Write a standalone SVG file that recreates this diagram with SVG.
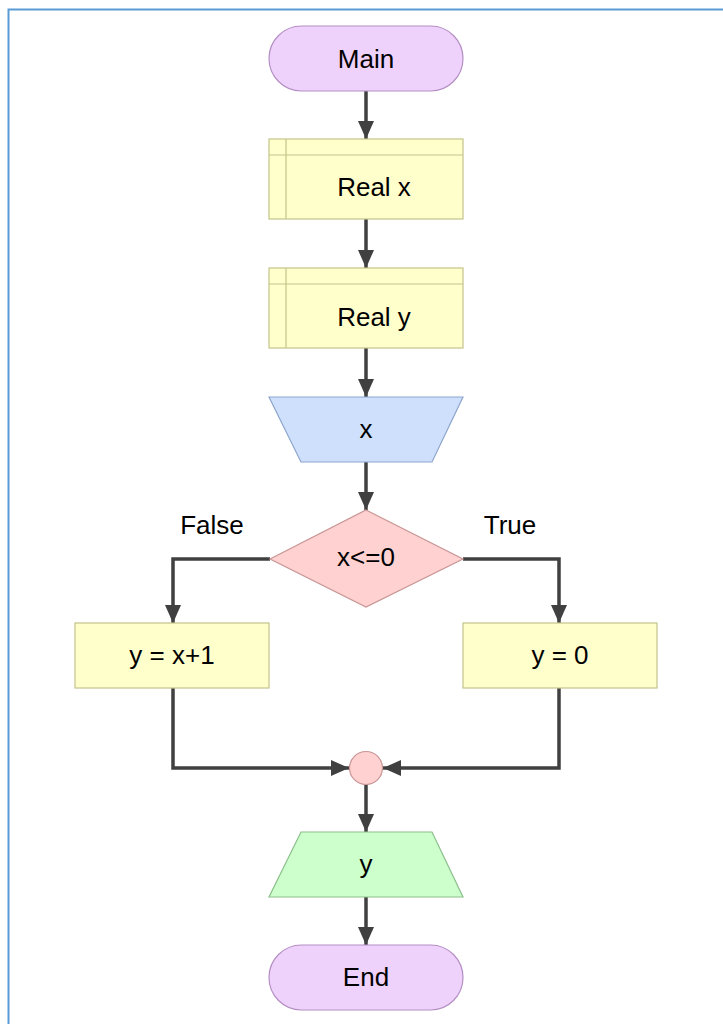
<svg xmlns="http://www.w3.org/2000/svg" width="723" height="1024" viewBox="0 0 723 1024">
<defs>
<marker id="ah" viewBox="0 0 18 16" refX="18" refY="8" markerWidth="18" markerHeight="16" markerUnits="userSpaceOnUse" orient="auto">
<path d="M0,0 L18,8 L0,16 Z" fill="#404040"/>
</marker>
<style>
text{font-family:"Liberation Sans",Arial,sans-serif;font-size:26px;fill:#000;text-anchor:middle;dominant-baseline:central}
.term{fill:#efd2fb;stroke:#b48fc4;stroke-width:1.2}
.proc{fill:#ffffcc;stroke:#c4c48a;stroke-width:1.2}
.inp{fill:#cfe0fd;stroke:#8ea6cc;stroke-width:1.2}
.dec{fill:#ffd1d1;stroke:#c99595;stroke-width:1.2}
.out{fill:#ccffcc;stroke:#8cbf8c;stroke-width:1.2}
.conn{fill:none;stroke:#404040;stroke-width:3.5;marker-end:url(#ah)}
</style>
</defs>
<rect x="0" y="0" width="723" height="1024" fill="#fff"/>
<path d="M8.5,1024 V9.5 H723" fill="none" stroke="#5b9bd5" stroke-width="2"/>
<g id="connectors">
<path class="conn" d="M366,91 V139"/>
<path class="conn" d="M366,219 V268"/>
<path class="conn" d="M366,348 V397"/>
<path class="conn" d="M366,462 V510"/>
<path class="conn" d="M270,559 H173 V623"/>
<path class="conn" d="M463,559 H559 V623"/>
<path class="conn" d="M173,688 V768 H349"/>
<path class="conn" d="M559,688 V768 H383"/>
<path class="conn" d="M366,784 V832"/>
<path class="conn" d="M366,897 V945"/>
</g>
<g id="main"><rect class="term" x="269" y="26" width="194" height="65" rx="32.5"/><text x="366" y="58.5">Main</text></g>
<g id="realx"><rect class="proc" x="269" y="139" width="194" height="80"/><path class="proc" d="M269,155 H463 M286,139 V219" fill="none"/><text x="374" y="187">Real x</text></g>
<g id="realy"><rect class="proc" x="269" y="268" width="194" height="80"/><path class="proc" d="M269,284 H463 M286,268 V348" fill="none"/><text x="374" y="317">Real y</text></g>
<g id="inputx"><path class="inp" d="M269,397 H463 L432,462 H301 Z"/><text x="366" y="429">x</text></g>
<g id="decision"><path class="dec" d="M366,510 L463,559 L366,607 L270,559 Z"/><text x="366" y="557">x&lt;=0</text></g>
<g id="labelFalse"><text x="212" y="525">False</text></g>
<g id="labelTrue"><text x="510" y="525">True</text></g>
<g id="yx1"><rect class="proc" x="75" y="623" width="194" height="65"/><text x="172" y="655">y = x+1</text></g>
<g id="y0"><rect class="proc" x="463" y="623" width="194" height="65"/><text x="560" y="655">y = 0</text></g>
<g id="merge"><circle class="dec" cx="366" cy="768" r="16.5"/></g>
<g id="outy"><path class="out" d="M301,832 H432 L463,897 H269 Z"/><text x="366" y="864">y</text></g>
<g id="end"><rect class="term" x="269" y="945" width="194" height="65" rx="32.5"/><text x="366" y="977">End</text></g>
</svg>
